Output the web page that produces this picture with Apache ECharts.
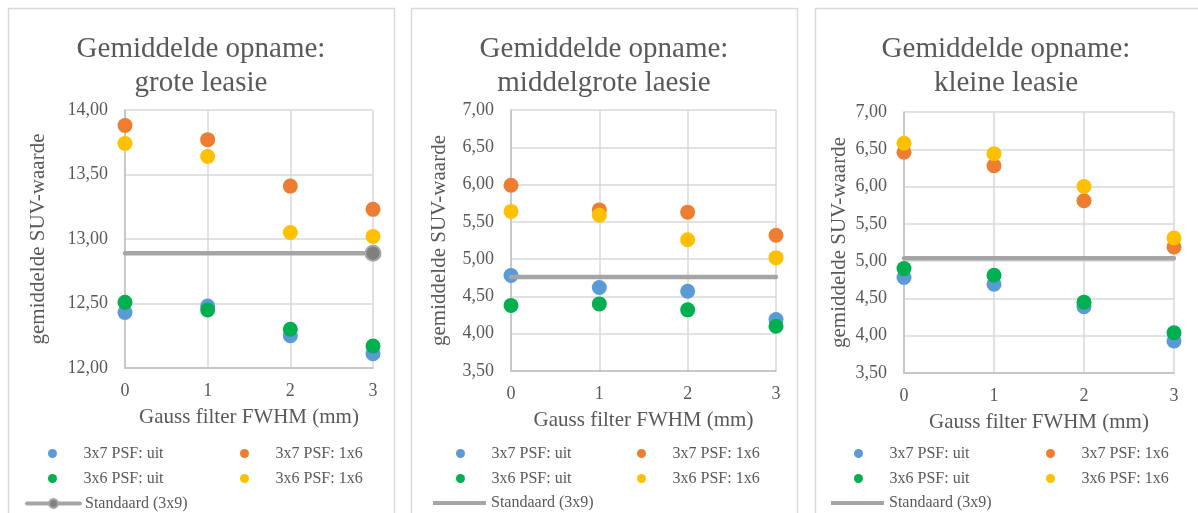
<!DOCTYPE html>
<html>
<head>
<meta charset="utf-8">
<script src="https://cdn.jsdelivr.net/npm/echarts@6/dist/echarts.min.js"></script>
<style>
  html, body { margin: 0; padding: 0; background: #ffffff; }
  #chart { width: 1198px; height: 513px; }
</style>
</head>
<body>
<div id="chart"></div>
<script>
// Gauss filter FWHM (mm) on the x axis
const fwhm = [0, 1, 2, 3];

const seriesNames = ['3x7 PSF: uit', '3x7 PSF: 1x6', '3x6 PSF: uit', '3x6 PSF: 1x6'];
const standaardName = 'Standaard (3x9)';
const panelTitles = [
  'Gemiddelde opname:\ngrote leasie',
  'Gemiddelde opname:\nmiddelgrote laesie',
  'Gemiddelde opname:\nkleine leasie'
];
const xAxisTitle = 'Gauss filter FWHM (mm)';
const yAxisTitle = 'gemiddelde SUV-waarde';

// grote leasie
const groot37Uit = [12.43, 12.48, 12.25, 12.11];
const groot37Psf = [13.88, 13.77, 13.41, 13.23];
const groot36Uit = [12.51, 12.45, 12.30, 12.17];
const groot36Psf = [13.74, 13.64, 13.05, 13.02];
const grootStandaard = 12.89;

// middelgrote laesie
const middel37Uit = [4.78, 4.62, 4.57, 4.19];
const middel37Psf = [5.99, 5.66, 5.63, 5.32];
const middel36Uit = [4.38, 4.40, 4.32, 4.10];
const middel36Psf = [5.64, 5.59, 5.26, 5.02];
const middelStandaard = 4.76;

// kleine leasie
const klein37Uit = [4.78, 4.69, 4.39, 3.93];
const klein37Psf = [6.46, 6.28, 5.81, 5.19];
const klein36Uit = [4.90, 4.81, 4.45, 4.04];
const klein36Psf = [6.58, 6.44, 6.00, 5.31];
const kleinStandaard = 5.04;

// y axis ranges per panel
const yMins = [12, 3.5, 3.5];
const yMaxs = [14, 7, 7];
const yStep = 0.5;

const panelValues = [
  [groot37Uit, groot37Psf, groot36Uit, groot36Psf],
  [middel37Uit, middel37Psf, middel36Uit, middel36Psf],
  [klein37Uit, klein37Psf, klein36Uit, klein36Psf]
];
const panelStandaard = [grootStandaard, middelStandaard, kleinStandaard];

// ---- styling & layout ----
const FONT = '"Liberation Serif", "Times New Roman", serif';
const TEXT = '#595959';
const colors = ['#5b9bd5', '#ed7d31', '#00b050', '#ffc000'];
const lineColor = '#a5a5a5';

const layout = [
  { box: [8, 8, 386, 520], grid: [125, 110, 248, 258], titleX: 201, yNameGap: 76, dots: [52, 244], lineLeft: 25, withMarker: true },
  { box: [411, 8, 386, 520], grid: [511, 110, 265, 261], titleX: 604, yNameGap: 61, dots: [460, 641], lineLeft: 433, withMarker: false },
  { box: [815, 8, 400, 520], grid: [904, 112, 270, 261], titleX: 1006, yNameGap: 54, dots: [858, 1050], lineLeft: 831, withMarker: false }
];
const legendRows = [452, 477, 502];

const fmt = v => v.toFixed(2).replace('.', ',');

const grids = [], xAxes = [], yAxes = [], series = [], titles = [], legends = [], graphics = [];

layout.forEach((L, i) => {
  graphics.push({
    type: 'rect', silent: true, z: -10,
    shape: { x: L.box[0] + 0.5, y: L.box[1] + 0.5, width: L.box[2], height: L.box[3] },
    style: { fill: '#ffffff', stroke: '#d9d9d9', lineWidth: 1.5 }
  });

  titles.push({
    text: panelTitles[i],
    left: L.titleX, top: 32, textAlign: 'center', padding: 0,
    textStyle: { fontFamily: FONT, fontSize: 29, lineHeight: 34, fontWeight: 'normal', color: TEXT }
  });

  grids.push({ left: L.grid[0], top: L.grid[1], width: L.grid[2], height: L.grid[3], containLabel: false });

  xAxes.push({
    gridIndex: i, type: 'value', min: 0, max: 3, interval: 1,
    name: xAxisTitle, nameLocation: 'middle', nameGap: 39,
    nameTextStyle: { fontFamily: FONT, fontSize: 21, color: TEXT },
    axisLine: { show: true, onZero: false, lineStyle: { color: '#bfbfbf', width: 1.5 } },
    axisTick: { show: false },
    axisLabel: { fontFamily: FONT, fontSize: 18, color: TEXT, margin: 14 },
    splitLine: { show: true, lineStyle: { color: '#d9d9d9', width: 1.5 } }
  });

  yAxes.push({
    gridIndex: i, type: 'value', min: yMins[i], max: yMaxs[i], interval: yStep,
    name: yAxisTitle, nameLocation: 'middle', nameGap: L.yNameGap,
    nameTextStyle: { fontFamily: FONT, fontSize: 21, color: TEXT },
    axisLine: { show: true, onZero: false, lineStyle: { color: '#bfbfbf', width: 1.5 } },
    axisTick: { show: false },
    axisLabel: { fontFamily: FONT, fontSize: 18, color: TEXT, margin: 17, formatter: fmt },
    splitLine: { show: true, lineStyle: { color: '#d9d9d9', width: 1.5 } }
  });

  panelValues[i].forEach((vals, s) => {
    series.push({
      type: 'scatter', name: seriesNames[s], xAxisIndex: i, yAxisIndex: i,
      symbol: 'circle', symbolSize: 15,
      itemStyle: { color: colors[s], opacity: 1 },
      data: fwhm.map((x, k) => [x, vals[k]])
    });
  });

  const std = panelStandaard[i];
  series.push({
    type: 'line', name: standaardName, xAxisIndex: i, yAxisIndex: i,
    symbol: L.withMarker ? 'circle' : 'none', symbolSize: 15,
    showSymbol: true,
    lineStyle: { color: lineColor, width: 4.5, cap: 'round' },
    itemStyle: { color: '#7f7f7f', borderColor: lineColor, borderWidth: 2 },
    data: fwhm.map((x, k) => ({
      value: [x, std],
      symbol: (L.withMarker && k === fwhm.length - 1) ? 'circle' : 'none'
    }))
  });

  // legend: two rows of markers in two columns, then the reference line
  seriesNames.forEach((name, s) => {
    const row = Math.floor(s / 2), col = s % 2;
    legends.push({
      data: [name], selectedMode: false, padding: 0,
      left: L.dots[col] - 4, top: legendRows[row] - 6.5,
      itemWidth: 52, itemHeight: 9, itemGap: 0,
      textStyle: { fontFamily: FONT, fontSize: 16, color: TEXT }
    });
  });
  if (L.withMarker) {
    legends.push({
      data: [standaardName], selectedMode: false, padding: 0,
      left: L.lineLeft, top: legendRows[2] - 6.5,
      itemWidth: 53, itemHeight: 11,
      lineStyle: { width: 4 },
      textStyle: { fontFamily: FONT, fontSize: 16, color: TEXT }
    });
  } else {
    legends.push({
      data: [{ name: standaardName, icon: 'rect' }], selectedMode: false, padding: 0,
      left: L.lineLeft, top: legendRows[2] - 7,
      itemWidth: 53, itemHeight: 4,
      itemStyle: { color: lineColor, borderWidth: 0 },
      textStyle: { fontFamily: FONT, fontSize: 16, color: TEXT }
    });
  }
});

const chart = echarts.init(document.getElementById('chart'), null, { renderer: 'canvas' });
chart.setOption({
  backgroundColor: '#ffffff',
  animation: false,
  title: titles,
  grid: grids,
  xAxis: xAxes,
  yAxis: yAxes,
  legend: legends,
  graphic: graphics,
  series: series
});
</script>
</body>
</html>
